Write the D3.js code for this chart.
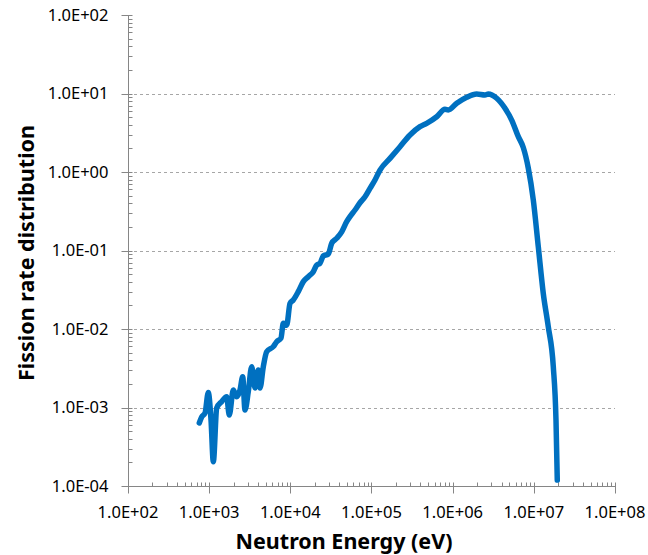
<!DOCTYPE html>
<html>
<head>
<meta charset="utf-8">
<script src="https://cdn.jsdelivr.net/npm/d3@7/dist/d3.min.js"></script>
<style>
  html, body { margin: 0; padding: 0; background: #fff; }
  svg { display: block; }
  text { font-family: "Noto Sans", "DejaVu Sans", sans-serif; fill: #000; }
</style>
</head>
<body>
<svg id="chart" width="648" height="555"></svg>
<script>
// Neutron energy (eV)
const energy = [755, 809, 889, 975, 1054, 1125, 1239, 1427, 1643, 1770, 1983, 2182, 2399, 2589, 2763, 3034, 3342, 3670, 4030, 4230, 4645, 5115, 6170, 6790, 7670, 8190, 9020, 9910, 10870, 12530, 14450, 16640, 19180, 21130, 23190, 25470, 29370, 32350, 37250, 42950, 49450, 54300, 62650, 72150, 83200, 95800, 110400, 127300, 169000, 224600, 298000, 395500, 478300, 635500, 804000, 883000, 1122000, 1490000, 1977000, 2500000, 2748000, 3486000, 4413000, 5335000, 6440000, 7415000, 8545000, 9850000, 11350000, 13070000, 15060000, 17370000, 18750000, 19450000];
// Fission rate distribution
const fission = [6.35e-4, 7.57e-4, 8.5e-4, 1.55e-3, 6.9e-4, 2.04e-4, 9.86e-4, 1.19e-3, 1.37e-3, 8.0e-4, 1.67e-3, 1.37e-3, 1.67e-3, 2.47e-3, 9.3e-4, 1.59e-3, 3.31e-3, 1.77e-3, 3.0e-3, 1.77e-3, 3.31e-3, 5.14e-3, 5.96e-3, 6.9e-3, 7.67e-3, 1.18e-2, 1.12e-2, 2.12e-2, 2.34e-2, 2.99e-2, 4.01e-2, 4.64e-2, 5.37e-2, 6.53e-2, 6.87e-2, 8.51e-2, 9.02e-2, 0.1236, 0.143, 0.173, 0.233, 0.270, 0.328, 0.406, 0.484, 0.619, 0.791, 1.06, 1.49, 2.10, 2.96, 3.78, 4.17, 5.06, 6.30, 6.17, 7.50, 8.96, 9.85, 9.57, 9.85, 8.69, 6.47, 4.59, 2.82, 2.05, 1.12, 0.44, 0.1117, 0.0285, 0.0107, 3.31e-3, 6.93e-4, 1.19e-4];

const xTickValues = [1e2, 1e3, 1e4, 1e5, 1e6, 1e7, 1e8];
const xTickLabels = ["1.0E+02", "1.0E+03", "1.0E+04", "1.0E+05", "1.0E+06", "1.0E+07", "1.0E+08"];
const yTickValues = [1e-4, 1e-3, 1e-2, 1e-1, 1e0, 1e1, 1e2];
const yTickLabels = ["1.0E-04", "1.0E-03", "1.0E-02", "1.0E-01", "1.0E+00", "1.0E+01", "1.0E+02"];
const xTitle = "Neutron Energy (eV)";
const yTitle = "Fission rate distribution";

(function () {
const svg = d3.select("#chart");
const pLeft = 128, pRight = 615, pTop = 15, pBottom = 486;
const axisColor = "#868686";

const x = d3.scaleLog().domain([1e2, 1e8]).range([pLeft, pRight]);
const y = d3.scaleLog().domain([1e-4, 1e2]).range([pBottom, pTop]);

function minors(lo, hi) {
  const out = [];
  for (let d = lo; d < hi; d *= 10) for (let k = 2; k <= 9; k++) out.push(d * k);
  return out;
}

// gridlines
svg.append("g").selectAll("line").data(yTickValues.filter(v => v > 1e-4 && v < 1e2))
  .join("line")
  .attr("x1", pLeft).attr("x2", pRight)
  .attr("y1", d => Math.round(y(d)) + 0.5).attr("y2", d => Math.round(y(d)) + 0.5)
  .attr("stroke", "#a6a6a6").attr("stroke-width", 1).attr("stroke-dasharray", "3,3");

// x axis
const gx = svg.append("g").attr("transform", `translate(0,${pBottom + 0.5})`);
gx.append("line").attr("x1", pLeft).attr("x2", pRight).attr("stroke", axisColor);
gx.selectAll("line.minor").data(minors(1e2, 1e8)).join("line").attr("class", "minor")
  .attr("x1", d => Math.round(x(d)) + 0.5).attr("x2", d => Math.round(x(d)) + 0.5)
  .attr("y1", -4).attr("y2", 0).attr("stroke", axisColor);
gx.selectAll("line.major").data(xTickValues).join("line").attr("class", "major")
  .attr("x1", d => Math.round(x(d)) + 0.5).attr("x2", d => Math.round(x(d)) + 0.5)
  .attr("y1", -4).attr("y2", 7).attr("stroke", axisColor);
gx.selectAll("text").data(xTickValues).join("text")
  .attr("x", d => x(d)).attr("y", 31)
  .attr("text-anchor", "middle").attr("font-size", 16.5)
  .text((d, i) => xTickLabels[i]);

// y axis
const gy = svg.append("g").attr("transform", `translate(${pLeft + 0.5},0)`);
gy.append("line").attr("y1", pTop).attr("y2", pBottom).attr("stroke", axisColor);
gy.selectAll("line.minor").data(minors(1e-4, 1e2)).join("line").attr("class", "minor")
  .attr("y1", d => Math.round(y(d)) + 0.5).attr("y2", d => Math.round(y(d)) + 0.5)
  .attr("x1", 0).attr("x2", 4).attr("stroke", axisColor);
gy.selectAll("line.major").data(yTickValues).join("line").attr("class", "major")
  .attr("y1", d => Math.round(y(d)) + 0.5).attr("y2", d => Math.round(y(d)) + 0.5)
  .attr("x1", -7).attr("x2", 4).attr("stroke", axisColor);
gy.selectAll("text").data(yTickValues).join("text")
  .attr("x", -20).attr("y", d => y(d)).attr("dy", "0.35em")
  .attr("text-anchor", "end").attr("font-size", 16.5)
  .text((d, i) => yTickLabels[i]);

// titles
svg.append("text").attr("x", 344).attr("y", 549)
  .attr("text-anchor", "middle").attr("font-size", 21.5).attr("font-weight", "bold")
  .text(xTitle);
svg.append("text").attr("transform", `translate(34,253) rotate(-90)`)
  .attr("text-anchor", "middle").attr("font-size", 21.5).attr("font-weight", "bold")
  .text(yTitle);

// data line
const line = d3.line().x((d, i) => x(energy[i])).y(d => y(d)).curve(d3.curveMonotoneX);
svg.append("path").datum(fission)
  .attr("d", line)
  .attr("fill", "none").attr("stroke", "#0070C0").attr("stroke-width", 5.5)
  .attr("stroke-linejoin", "round").attr("stroke-linecap", "round");
})();
</script>
</body>
</html>
